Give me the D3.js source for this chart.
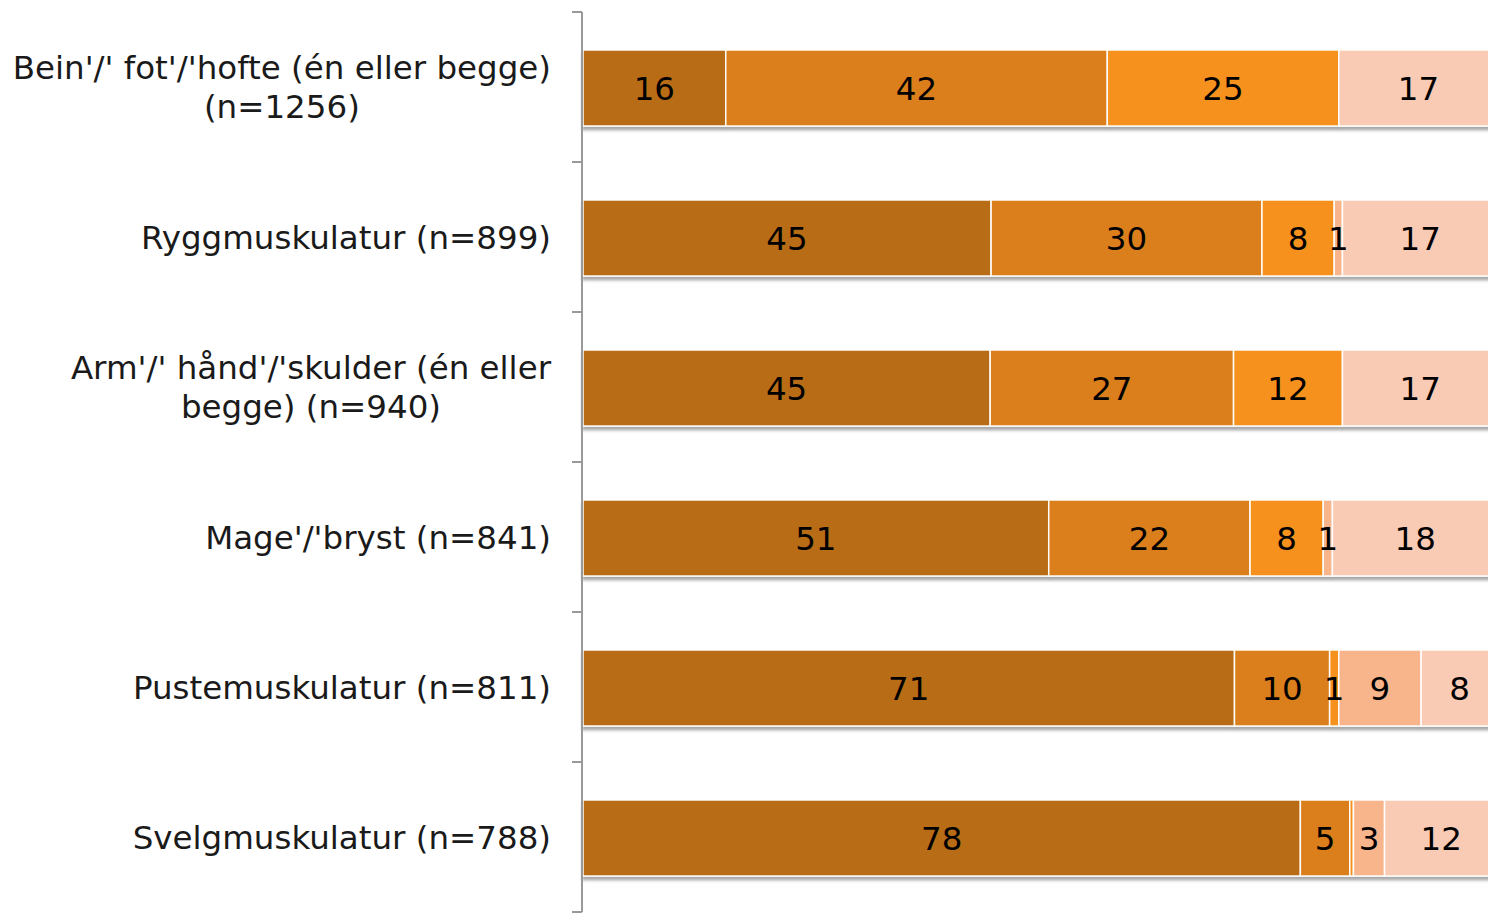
<!DOCTYPE html>
<html>
<head>
<meta charset="utf-8">
<script src="https://cdn.jsdelivr.net/npm/d3@7"></script>
<style>
  html, body { margin: 0; padding: 0; background: #fff; overflow: hidden; }
  svg { display: block; font-family: "DejaVu Sans", Verdana, sans-serif; }
</style>
</head>
<body>
<div id="viz"></div>
<script>
// categories, top to bottom
var categories = [
  "Bein'/' fot'/'hofte (én eller begge) (n=1256)",
  "Ryggmuskulatur (n=899)",
  "Arm'/' hånd'/'skulder (én eller begge) (n=940)",
  "Mage'/'bryst (n=841)",
  "Pustemuskulatur (n=811)",
  "Svelgmuskulatur (n=788)"
];

// series values (percent); labels show rounded values
var series1 = [15.6, 44.6, 44.5, 50.9, 71.2, 78.4];
var series2 = [41.7, 29.6, 26.6, 22.0, 10.4, 5.4];
var series3 = [25.3, 7.9, 11.9, 8.0, 1.0, 0.4];
var series4 = [0, 0.9, 0, 1.0, 9.0, 3.4];
var series5 = [17.4, 17.0, 17.0, 18.1, 8.4, 12.4];

var seriesColors = ["#b96c15", "#db7e1a", "#f5911f", "#f8b48a", "#facbb4"];

// build the table d3.stack wants
var keys = ["s1", "s2", "s3", "s4", "s5"];
var table = categories.map(function (c, i) {
  return { cat: c, s1: series1[i], s2: series2[i], s3: series3[i], s4: series4[i], s5: series5[i] };
});

var W = 1488, H = 913;
var axisX = 582;
var fontSize = 32.5;

var svg = d3.select("#viz").append("svg")
  .attr("width", W)
  .attr("height", H);

// soft shadow under each bar
var defs = svg.append("defs");
var f = defs.append("filter").attr("id", "shadow")
  .attr("x", "-5%").attr("y", "-20%").attr("width", "110%").attr("height", "160%");
f.append("feDropShadow")
  .attr("dx", 0).attr("dy", 3.5).attr("stdDeviation", 1.8)
  .attr("flood-color", "#000").attr("flood-opacity", 0.35);

var x = d3.scaleLinear().domain([0, 100]).range([axisX + 1, axisX + 1 + 915]);

var y = d3.scaleBand()
  .domain(categories)
  .range([12, 912])
  .paddingInner(0.493)
  .paddingOuter(0.2465);

var stacked = d3.stack().keys(keys)(table);

// rows of bars (nudged 1px down like the original)
var rows = svg.append("g")
  .attr("transform", "translate(0,1)")
  .selectAll("g.row")
  .data(table)
  .join("g")
    .attr("class", "row")
    .attr("filter", "url(#shadow)");

rows.each(function (d, i) {
  var g = d3.select(this);
  stacked.forEach(function (layer, k) {
    var seg = layer[i];
    if (seg[1] - seg[0] <= 0) return;
    g.append("rect")
      .attr("x", x(seg[0]))
      .attr("y", y(d.cat))
      .attr("width", x(seg[1]) - x(seg[0]))
      .attr("height", y.bandwidth())
      .attr("fill", seriesColors[k])
      .attr("stroke", "#fff")
      .attr("stroke-width", 1.5);
  });
});

// value labels
var labels = svg.append("g");
stacked.forEach(function (layer, k) {
  layer.forEach(function (seg, i) {
    var v = Math.round(seg[1] - seg[0]);
    if (v === 0) return;
    labels.append("text")
      .attr("x", (x(seg[0]) + x(seg[1])) / 2)
      .attr("y", y(categories[i]) + y.bandwidth() / 2 + 1)
      .attr("dy", "0.36em")
      .attr("text-anchor", "middle")
      .attr("font-size", fontSize)
      .attr("fill", "#000")
      .text(v);
  });
});

// vertical axis line with ticks between categories
var axis = svg.append("g").attr("stroke", "#999").attr("stroke-width", 2);
axis.append("line")
  .attr("x1", axisX).attr("x2", axisX)
  .attr("y1", y.range()[0]).attr("y2", y.range()[1]);
var tickYs = categories.map(function (c) { return y(c) - y.step() * y.paddingInner() / 2; });
tickYs.push(y.range()[1]);
axis.selectAll("line.tick")
  .data(tickYs)
  .join("line")
    .attr("class", "tick")
    .attr("x1", axisX - 10).attr("x2", axisX)
    .attr("y1", function (d) { return d; })
    .attr("y2", function (d) { return d; });

// category labels, wrapped, right aligned block with centred lines
var maxW = 560, lineH = 39, labelRight = 551;
var catG = svg.append("g").attr("font-size", fontSize).attr("fill", "#1a1a1a");

categories.forEach(function (c) {
  var words = c.split(" ");
  var t = catG.append("text").attr("text-anchor", "middle");
  var lines = [], cur = [];
  words.forEach(function (w) {
    var test = cur.concat([w]).join(" ");
    t.text(test);
    if (t.node().getComputedTextLength() > maxW && cur.length) {
      lines.push(cur.join(" "));
      cur = [w];
    } else {
      cur.push(w);
    }
  });
  lines.push(cur.join(" "));
  t.text(null);

  var widths = lines.map(function (l) {
    t.text(l);
    return t.node().getComputedTextLength();
  });
  t.text(null);
  var blockW = d3.max(widths);
  var cx = labelRight - blockW / 2;
  var cy = y(c) + y.bandwidth() / 2;
  lines.forEach(function (l, j) {
    t.append("tspan")
      .attr("x", cx)
      .attr("y", cy + (j - (lines.length - 1) / 2) * lineH)
      .attr("dy", "0.36em")
      .text(l);
  });
});
</script>
</body>
</html>
